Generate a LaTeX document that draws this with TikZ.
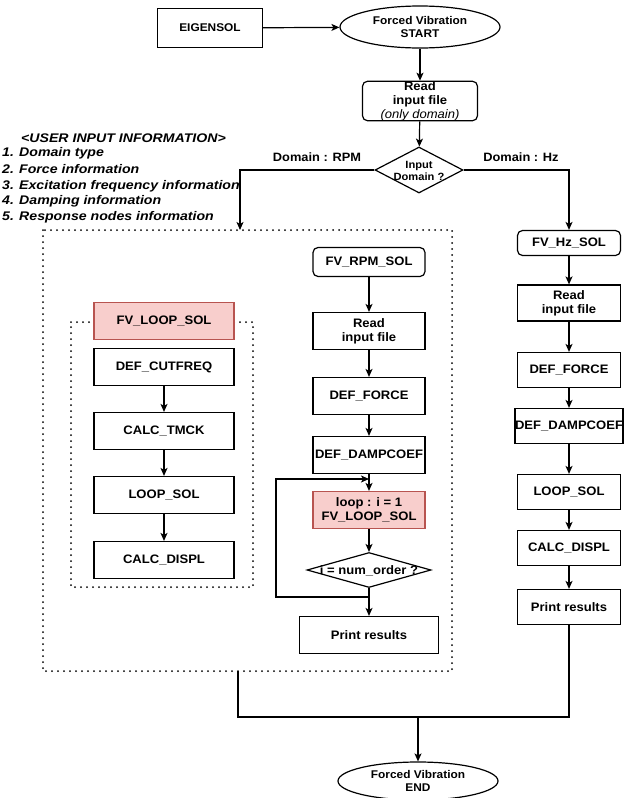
\documentclass[tikz,border=0pt]{standalone}
\usepackage{fontspec}
\setmainfont{Liberation Sans}[FakeStretch=1.06]
\newfontfamily\infofont{Liberation Sans}[FakeStretch=1.13]
\usetikzlibrary{shapes.geometric,arrows.meta}
\definecolor{pinkfill}{HTML}{F8CECC}
\definecolor{pinkline}{HTML}{B85450}
\begin{document}
\begin{tikzpicture}[x=1pt,y=-1pt,
  every node/.style={font=\bfseries\fontsize{12.3}{14}\selectfont, align=center, inner sep=0pt},
  box/.style={draw, line width=1.2pt, minimum width=#1, minimum height=37},
  box/.default=112,
  rbox/.style={box=#1, rounded corners=5pt},
  rbox/.default=112,
  pbox/.style={box=#1, fill=pinkfill, draw=pinkline},
  pbox/.default=140,
  oval/.style={draw, ellipse, line width=1.2pt, minimum width=160, minimum height=42, font=\bfseries\fontsize{11.2}{13}\selectfont},
  dia/.style={draw, diamond, line width=1.2pt, minimum width=#1},
  arr/.style={line width=1.2pt, -{Stealth[length=8pt,width=7pt,inset=2pt]}},
  ln/.style={line width=1.2pt},
  dots/.style={line width=2pt, dash pattern=on 0pt off 6pt, line cap=round},
  info/.style={font=\infofont\bfseries\itshape\fontsize{12.5}{14}\selectfont, anchor=west}
]
\useasboundingbox (0,0) rectangle (635,798);

% top
\node[box=105, minimum height=39, font=\bfseries\fontsize{11.2}{13}\selectfont] (eig) at (210,28) {EIGENSOL};
\node[oval] (start) at (420,27) {Forced Vibration\\START};
\node[rbox=115, minimum height=38] (read0) at (420,101) {Read\\input file\\{\mdseries\itshape (only domain)}};
\node[dia=88, minimum height=46, aspect=1.91] (dom) at (419,170) {};
\node[font=\bfseries\fontsize{10.5}{12}\selectfont] (domt) at (419,171) {Input\\Domain ?};
\node[font=\bfseries\fontsize{12.1}{14}\selectfont] (lrpm) at (317,157) {Domain : RPM};
\node[font=\bfseries\fontsize{12.1}{14}\selectfont] (lhz) at (521,157) {Domain : Hz};

% user info
\node[info] (ui0) at (21,138) {<USER INPUT INFORMATION>};
\node[info] (ui1) at (2,153) {1. Domain type};
\node[info] (ui2) at (2,169) {2. Force information};
\node[info] (ui3) at (2,186) {3. Excitation frequency information};
\node[info] (ui4) at (2,201) {4. Damping information};
\node[info] (ui5) at (2,217) {5. Response nodes information};

% big dotted box
\draw[dots] (43,230) rectangle (452,671);
\coordinate (bigtop) at (240,230);
\coordinate (bigbot) at (238,671);

% inner dotted box
\draw[dots] (71,322) -- (94,322);
\draw[dots] (234,322) -- (253,322) -- (253,587) -- (71,587) -- (71,322);

% left column
\node[pbox=140] (fvloop) at (164,321) {FV\_LOOP\_SOL};
\node[box=140] (cut) at (164,367) {DEF\_CUTFREQ};
\node[box=140] (tmck) at (164,431) {CALC\_TMCK};
\node[box=140] (lsol) at (164,495) {LOOP\_SOL};
\node[box=140] (cdisp) at (164,560) {CALC\_DISPL};

% middle column
\node[rbox=112, minimum height=29] (rpm) at (369,262) {FV\_RPM\_SOL};
\node[box=112] (rread) at (369,331) {Read\\input file};
\node[box=112] (rforce) at (369,396) {DEF\_FORCE};
\node[box=112] (rdamp) at (369,455) {DEF\_DAMPCOEF};
\node[pbox=112] (rloop) at (369,510) {loop : i = 1\\FV\_LOOP\_SOL};
\node[dia=124, minimum height=35, aspect=3.54] (ord) at (369,570) {};
\node (ordt) at (369,571) {i = num\_order ?};
\node[box=139] (rprint) at (369,635) {Print results};

% right column
\node[rbox=103, minimum height=25] (hz) at (569,243) {FV\_Hz\_SOL};
\node[box=103, minimum height=36] (hread) at (569,303) {Read\\input file};
\node[box=103, minimum height=35] (hforce) at (569,370) {DEF\_FORCE};
\node[box=103, minimum height=35] (hdamp) at (569,426) {DEF\_DAMPCOEF};
\node[box=103, minimum height=35] (hlsol) at (569,492) {LOOP\_SOL};
\node[box=103, minimum height=35] (hdisp) at (569,548) {CALC\_DISPL};
\node[box=103, minimum height=35] (hprint) at (569,607) {Print results};

% end
\node[oval, minimum height=38] (endn) at (418,781) {Forced Vibration\\END};

% connectors
\draw[arr] (eig) -- (start);
\draw[arr] (start) -- (read0);
\draw[arr] (read0) -- (dom);
\draw[arr] (dom.west) -| (bigtop);
\draw[arr] (dom.east) -| (hz);

\draw[arr] (cut) -- (tmck);
\draw[arr] (tmck) -- (lsol);
\draw[arr] (lsol) -- (cdisp);

\draw[arr] (rpm) -- (rread);
\draw[arr] (rread) -- (rforce);
\draw[arr] (rforce) -- (rdamp);
\draw[arr] (rdamp) -- (rloop);
\draw[arr] (rloop) -- (ord);
\draw[arr] (ord) -- (rprint);
\coordinate (lb1) at (276,597);
\coordinate (lb2) at (276,479);
\coordinate (lb3) at (369,479);
\draw[arr] (ord.south) |- (lb1) -- (lb2) -- (lb3);

\draw[arr] (hz) -- (hread);
\draw[arr] (hread) -- (hforce);
\draw[arr] (hforce) -- (hdamp);
\draw[arr] (hdamp) -- (hlsol);
\draw[arr] (hlsol) -- (hdisp);
\draw[arr] (hdisp) -- (hprint);

\coordinate (joinL) at (238,717);
\coordinate (joinM) at (418,717);
\draw[ln] (hprint.south) |- (joinL) -- (bigbot);
\draw[arr] (joinM) -- (endn);
\end{tikzpicture}
\end{document}
